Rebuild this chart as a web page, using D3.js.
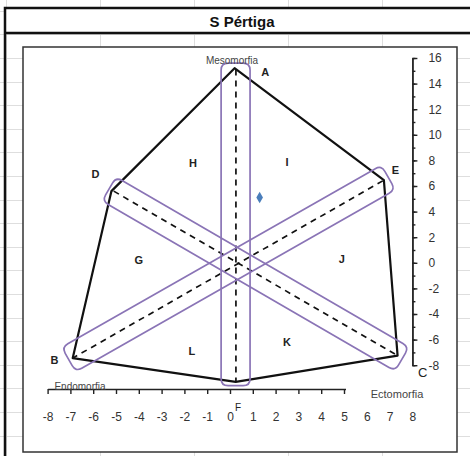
<!DOCTYPE html>
<html>
<head>
<meta charset="utf-8">
<script src="https://cdn.jsdelivr.net/npm/d3@7"></script>
<style>
  body { margin: 0; background: #fff; }
  svg { display: block; font-family: "Liberation Sans", Arial, sans-serif; }
</style>
</head>
<body>
<div id="chart"></div>
<script>
const title = 'S Pértiga';

const xTickLabels = [-8, -7, -6, -5, -4, -3, -2, -1, 0, 1, 2, 3, 4, 5, 6, 7, 8];
const xTickMarks = [-8, -7, -6, -5, -4, -3, -2, -1, 0, 1, 2, 3, 4, 5];
const yTickLabels = [-8, -6, -4, -2, 0, 2, 4, 6, 8, 10, 12, 14, 16];
const yMinorTicks = [-8, -7, -6, -5, -4, -3, -2, -1, 0, 1, 2, 3, 4, 5, 6, 7, 8, 9, 10, 11, 12, 13, 14, 15, 16];

// somatochart outline
const outline = [
  { name: 'A', x: 0.2, y: 15.2 },
  { name: 'E', x: 6.75, y: 6.45 },
  { name: 'C', x: 7.35, y: -7.25 },
  { name: 'F', x: 0.25, y: -9.3 },
  { name: 'B', x: -6.9, y: -7.45 },
  { name: 'D', x: -5.2, y: 5.6 },
];

const dashedAxes = [
  [{ x: 0.26, y: 15.1 }, { x: 0.26, y: -9.3 }],
  [{ x: -5.1, y: 5.6 }, { x: 7.35, y: -7.25 }],
  [{ x: 6.7, y: 6.4 }, { x: -6.9, y: -7.45 }],
];

// purple bands along the three axes (corner points)
const bands = [
  [[-0.39, 15.6], [0.88, 15.6], [0.88, -9.6], [-0.39, -9.6]],
  [[-5.0, 6.7], [7.85, -6.58], [7.24, -8.45], [-5.61, 4.83]],
  [[-7.38, -6.6], [6.64, 7.62], [7.25, 5.71], [-6.77, -8.51]],
];

const subject = [{ x: 1.3, y: 5.1 }];

const pointLabels = [
  { text: 'A', x: 1.55, y: 14.9 },
  { text: 'D', x: -5.9, y: 6.9 },
  { text: 'E', x: 7.25, y: 7.25 },
  { text: 'B', x: -7.7, y: -7.6 },
  { text: 'H', x: -1.62, y: 7.8 },
  { text: 'I', x: 2.5, y: 7.9 },
  { text: 'G', x: -4.0, y: 0.2 },
  { text: 'J', x: 4.9, y: 0.3 },
  { text: 'L', x: -1.67, y: -6.9 },
  { text: 'K', x: 2.5, y: -6.2 },
];

const width = 470;
const height = 456;

const svg = d3.select('#chart')
  .append('svg')
  .attr('width', width)
  .attr('height', height);

// spreadsheet cells behind the chart
const grid = svg.append('g')
  .attr('stroke', '#dedede')
  .attr('stroke-width', 1);

grid.selectAll('line.row')
  .data(d3.range(10.8, height, 23.6))
  .join('line')
  .attr('class', 'row')
  .attr('x1', 0)
  .attr('x2', width)
  .attr('y1', (d) => Math.round(d) + 0.5)
  .attr('y2', (d) => Math.round(d) + 0.5);

grid.selectAll('line.col')
  .data(d3.range(6, width, 94))
  .join('line')
  .attr('class', 'col')
  .attr('x1', (d) => Math.round(d) + 0.5)
  .attr('x2', (d) => Math.round(d) + 0.5)
  .attr('y1', 0)
  .attr('y2', height);

// merged title cell
svg.append('rect')
  .attr('x', 5)
  .attr('y', 8)
  .attr('width', 480)
  .attr('height', 25)
  .attr('fill', '#fff');

svg.append('rect')
  .attr('x', 5)
  .attr('y', 8)
  .attr('width', 490)
  .attr('height', 470)
  .attr('fill', 'none')
  .attr('stroke', '#111')
  .attr('stroke-width', 2.5);

svg.append('line')
  .attr('x1', 5)
  .attr('x2', width)
  .attr('y1', 33)
  .attr('y2', 33)
  .attr('stroke', '#111')
  .attr('stroke-width', 2.5);

svg.append('text')
  .attr('x', 242)
  .attr('y', 27)
  .attr('text-anchor', 'middle')
  .attr('font-size', 15)
  .attr('font-weight', 'bold')
  .attr('fill', '#111')
  .text(title);

// chart area
svg.append('rect')
  .attr('x', 23)
  .attr('y', 47)
  .attr('width', 434)
  .attr('height', 405)
  .attr('fill', '#fff')
  .attr('stroke', '#333')
  .attr('stroke-width', 1.5);

const xScale = d3.scaleLinear()
  .domain([-8, 8])
  .range([47.6, 412.4]);

const yScale = d3.scaleLinear()
  .domain([-8, 16])
  .range([365.2, 58]);

const xAxisY = 389;
const plainNumber = (d) => String(d);

const plot = svg.append('g');

// hexagon outline
const outlineLine = d3.line()
  .x((d) => xScale(d.x))
  .y((d) => yScale(d.y))
  .curve(d3.curveLinearClosed);

plot.append('path')
  .datum(outline)
  .attr('fill', 'none')
  .attr('stroke', '#111')
  .attr('stroke-width', 2.2)
  .attr('stroke-linejoin', 'round')
  .attr('d', outlineLine);

const axisLine = d3.line()
  .x((d) => xScale(d.x))
  .y((d) => yScale(d.y));

plot.selectAll('path.dashed')
  .data(dashedAxes)
  .join('path')
  .attr('class', 'dashed')
  .attr('fill', 'none')
  .attr('stroke', '#111')
  .attr('stroke-width', 1.7)
  .attr('stroke-dasharray', '6,5')
  .attr('d', axisLine);

const roundedPath = (corners, r) => {
  const pts = corners.map((c) => [xScale(c[0]), yScale(c[1])]);
  const n = pts.length;
  const path = d3.path();
  pts.forEach((p, i) => {
    const prev = pts[(i - 1 + n) % n];
    const next = pts[(i + 1) % n];
    const toward = (q) => {
      const dx = q[0] - p[0];
      const dy = q[1] - p[1];
      const len = Math.hypot(dx, dy);
      return [p[0] + (dx / len) * r, p[1] + (dy / len) * r];
    };
    const a = toward(prev);
    const b = toward(next);
    if (i === 0) {
      path.moveTo(a[0], a[1]);
    } else {
      path.lineTo(a[0], a[1]);
    }
    path.quadraticCurveTo(p[0], p[1], b[0], b[1]);
  });
  path.closePath();
  return path.toString();
};

plot.selectAll('path.band')
  .data(bands)
  .join('path')
  .attr('class', 'band')
  .attr('fill', 'none')
  .attr('stroke', '#8a74b6')
  .attr('stroke-width', 1.7)
  .attr('d', (d) => roundedPath(d, 7));

plot.selectAll('path.subject')
  .data(subject)
  .join('path')
  .attr('class', 'subject')
  .attr('transform', (d) => `translate(${xScale(d.x)},${yScale(d.y)})`)
  .attr('fill', '#4a7ebb')
  .attr('d', d3.symbol(d3.symbolDiamond, 38));

plot.selectAll('text.point-label')
  .data(pointLabels)
  .join('text')
  .attr('class', 'point-label')
  .attr('x', (d) => xScale(d.x))
  .attr('y', (d) => yScale(d.y))
  .attr('dy', '0.35em')
  .attr('text-anchor', 'middle')
  .attr('font-size', 11)
  .attr('font-weight', 'bold')
  .attr('fill', '#222')
  .text((d) => d.text);

// x axis
const xAxisG = svg.append('g')
  .attr('transform', `translate(0,${xAxisY})`);

xAxisG.call(d3.axisBottom(xScale)
  .tickValues(xTickMarks)
  .tickSize(5)
  .tickSizeOuter(0)
  .tickFormat(''));

xAxisG.selectAll('path, line')
  .attr('stroke', '#222')
  .attr('stroke-width', 1.4);

const xLabelsG = svg.append('g')
  .attr('transform', `translate(0,${xAxisY})`)
  .call(d3.axisBottom(xScale)
    .tickValues(xTickLabels)
    .tickSize(0)
    .tickPadding(23)
    .tickFormat(plainNumber));

xLabelsG.select('.domain').remove();
xLabelsG.selectAll('text')
  .attr('font-family', '"Liberation Sans", Arial, sans-serif')
  .attr('font-size', 12)
  .attr('fill', '#333');

// y axis on the right
const yAxisX = xScale(8);

const yMinorG = svg.append('g')
  .attr('transform', `translate(${yAxisX},0)`)
  .call(d3.axisRight(yScale)
    .tickValues(yMinorTicks)
    .tickSize(3)
    .tickSizeOuter(0)
    .tickFormat(''));

const yAxisG = svg.append('g')
  .attr('transform', `translate(${yAxisX},0)`)
  .call(d3.axisRight(yScale)
    .tickValues(yTickLabels)
    .tickSize(5)
    .tickSizeOuter(0)
    .tickPadding(11)
    .tickFormat(plainNumber));

[yMinorG, yAxisG].forEach((g) => {
  g.selectAll('path, line')
    .attr('stroke', '#222')
    .attr('stroke-width', 1.4);
});

yAxisG.selectAll('text')
  .attr('font-family', '"Liberation Sans", Arial, sans-serif')
  .attr('font-size', 12)
  .attr('fill', '#333');

// axis names and corner labels
svg.append('rect')
  .attr('x', 346)
  .attr('y', 384)
  .attr('width', 90)
  .attr('height', 18)
  .attr('fill', '#fff');

svg.append('text')
  .attr('x', 397)
  .attr('y', 394)
  .attr('dy', '0.35em')
  .attr('text-anchor', 'middle')
  .attr('font-size', 11)
  .attr('fill', '#444')
  .text('Ectomorfia');

svg.append('text')
  .attr('x', 80)
  .attr('y', 386)
  .attr('dy', '0.35em')
  .attr('text-anchor', 'middle')
  .attr('font-size', 10)
  .attr('fill', '#444')
  .text('Endomorfia');

svg.append('text')
  .attr('x', 232)
  .attr('y', 60)
  .attr('dy', '0.35em')
  .attr('text-anchor', 'middle')
  .attr('font-size', 10)
  .attr('fill', '#444')
  .text('Mesomorfia');

svg.append('text')
  .attr('x', xScale(8.45))
  .attr('y', yScale(-8.6))
  .attr('dy', '0.35em')
  .attr('text-anchor', 'middle')
  .attr('font-size', 13)
  .attr('fill', '#222')
  .text('C');

svg.append('text')
  .attr('x', xScale(0.35))
  .attr('y', 407)
  .attr('dy', '0.35em')
  .attr('text-anchor', 'middle')
  .attr('font-size', 10)
  .attr('fill', '#222')
  .text('F');
</script>
</body>
</html>
